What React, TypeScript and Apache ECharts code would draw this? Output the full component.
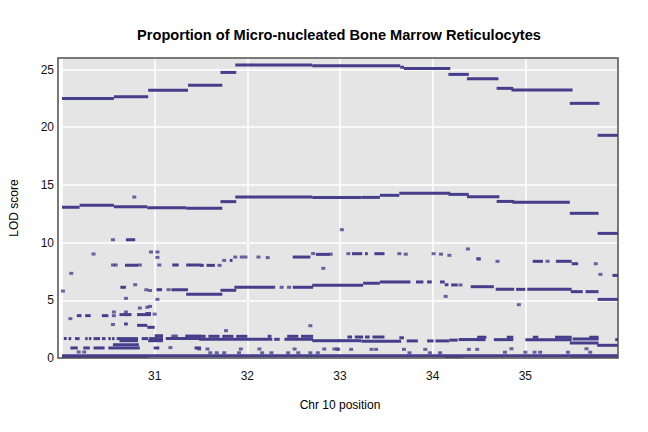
import React, { useEffect, useRef } from "react";
import * as echarts from "echarts";

const title = "Proportion of Micro-nucleated Bone Marrow Reticulocytes";
const xName = "Chr 10 position";
const yName = "LOD score";
const pointColor = "#483D8B";

// [startMb, endMb, LOD]
const topSegments = [
  [30.0, 30.56, 22.5], [30.56, 30.93, 22.65], [30.93, 31.36, 23.2], [31.36, 31.73, 23.63],
  [31.71, 31.88, 24.75], [31.87, 32.7, 25.39], [32.7, 33.65, 25.33], [33.65, 33.69, 25.2],
  [33.69, 34.19, 25.1], [34.17, 34.39, 24.58], [34.37, 34.71, 24.2], [34.69, 34.87, 23.37],
  [34.85, 35.51, 23.22], [35.48, 35.8, 22.07], [35.78, 36.0, 19.3],
];

const secondSegments = [
  [30.0, 30.19, 13.06], [30.19, 30.56, 13.23], [30.56, 30.92, 13.11], [30.92, 31.34, 13.03],
  [31.34, 31.73, 12.97], [31.71, 31.88, 13.55], [31.87, 32.7, 13.95], [32.7, 33.23, 13.9],
  [33.23, 33.43, 13.92], [33.43, 33.64, 14.1], [33.64, 34.19, 14.27], [34.17, 34.39, 14.18],
  [34.37, 34.72, 13.98], [34.69, 34.88, 13.57], [34.86, 35.48, 13.49], [35.48, 35.79, 12.54],
  [35.78, 36.0, 10.8],
];

const thirdSegments = [
  [31.34, 31.73, 5.52], [31.71, 31.88, 5.87], [31.86, 32.3, 6.13], [32.49, 32.71, 6.13],
  [32.7, 33.25, 6.3], [33.25, 33.43, 6.48], [33.43, 33.76, 6.59], [33.82, 33.9, 6.59],
  [33.94, 33.99, 6.59], [34.08, 34.13, 6.59], [34.13, 34.17, 6.35], [34.2, 34.27, 6.33],
  [34.41, 34.66, 6.18], [34.68, 34.88, 5.95], [34.9, 35.0, 5.95], [35.02, 35.5, 5.95],
  [35.49, 35.62, 5.75], [35.65, 35.79, 5.75], [35.78, 36.0, 5.08],
];

const scatterSegments = [
  [30.69, 30.79, 10.25], [30.68, 30.82, 8.03], [31.19, 31.26, 8.06], [31.34, 31.5, 8.06],
  [31.49, 31.53, 8.03], [31.56, 31.65, 8.03], [31.81, 31.84, 8.46], [32.49, 32.68, 8.75],
  [32.74, 32.89, 8.98], [33.13, 33.24, 9.04], [33.27, 33.3, 9.04], [33.37, 33.48, 9.04],
  [35.08, 35.19, 8.38], [35.33, 35.5, 8.38], [35.5, 35.57, 8.17], [35.94, 36.0, 7.16],
  [30.63, 30.69, 6.13], [31.02, 31.08, 5.92], [31.18, 31.36, 5.92],
  [30.62, 30.75, 3.76], [30.81, 30.96, 3.76], [30.9, 30.96, 3.85], [30.16, 30.21, 3.67],
  [30.25, 30.31, 3.67], [30.43, 30.5, 3.67], [30.67, 30.71, 2.95], [30.81, 30.92, 2.83],
  [30.92, 31.0, 2.66],
];

const lowSegments = [
  [30.02, 30.05, 1.68], [30.07, 30.1, 1.68], [30.14, 30.19, 1.68], [30.25, 30.26, 1.68],
  [30.29, 30.31, 1.68], [30.34, 30.41, 1.68], [30.43, 30.47, 1.68], [30.5, 30.51, 1.68],
  [30.54, 30.56, 1.68], [30.59, 30.82, 1.68], [30.86, 30.93, 1.68], [30.94, 31.09, 1.68],
  [31.12, 31.5, 1.68], [30.62, 30.82, 1.5], [30.93, 31.09, 1.5], [31.0, 31.09, 1.93],
  [31.33, 31.5, 1.9],
  [31.48, 32.27, 1.62], [32.29, 32.35, 1.62], [32.4, 32.71, 1.62], [32.7, 33.0, 1.5],
  [31.48, 31.55, 1.88], [31.58, 31.7, 1.88], [31.73, 31.85, 1.88], [31.88, 32.0, 1.88],
  [32.22, 32.26, 1.88], [32.43, 32.55, 1.88], [32.58, 32.71, 1.88],
  [32.98, 33.23, 1.5], [33.23, 33.66, 1.45], [33.72, 33.84, 1.48], [33.94, 34.01, 1.48],
  [34.03, 34.18, 1.48], [34.18, 34.27, 1.55], [34.28, 34.5, 1.6],
  [33.08, 33.13, 1.82], [33.16, 33.25, 1.82], [33.27, 33.32, 1.82], [33.35, 33.48, 1.82],
  [33.64, 33.69, 1.75],
  [34.48, 34.57, 1.59], [34.66, 34.87, 1.59], [35.0, 35.5, 1.59], [35.51, 35.79, 1.65],
  [35.97, 36.0, 1.59], [34.48, 34.58, 1.8], [34.8, 34.87, 1.8], [35.08, 35.14, 1.8],
  [35.32, 35.5, 1.8], [35.69, 35.79, 1.8], [35.48, 35.79, 1.3], [35.775, 36.0, 1.1],
];

const baseSegments = [
  [30.0, 36.0, 0.2], [30.0, 30.93, 0.12], [34.13, 34.33, 0.08], [35.49, 36.0, 0.15],
  [30.09, 30.17, 0.87], [30.23, 30.3, 0.87], [30.34, 30.46, 0.87], [30.5, 30.84, 0.87],
  [30.99, 31.05, 0.87], [31.43, 31.5, 0.87], [30.55, 30.83, 1.15],
];

// isolated markers [Mb, LOD]
const isolatedPoints = [
  [30.01, 5.8], [30.1, 7.34], [30.34, 9.01], [30.96, 9.19], [31.03, 9.19], [31.03, 8.72],
  [30.55, 10.25], [30.55, 8.06], [30.58, 8.06], [30.84, 8.06], [31.05, 8.06], [30.79, 6.35],
  [30.91, 5.91], [30.95, 5.85], [31.15, 5.92], [30.69, 5.17], [31.03, 5.08], [30.84, 4.33],
  [30.92, 4.4], [30.95, 4.47], [30.56, 3.99], [30.69, 3.99], [31.0, 3.8], [30.56, 3.67],
  [30.09, 3.41], [30.55, 2.9], [31.2, 1.9], [31.23, 1.9], [31.17, 0.9], [30.18, 0.52],
  [30.24, 0.52], [30.78, 13.95],
  [31.87, 8.75], [31.94, 8.75], [31.98, 8.75], [32.12, 8.75], [32.22, 8.7], [31.75, 8.46],
  [31.7, 8.03], [32.82, 7.77], [32.71, 9.05], [32.9, 9.0], [32.37, 6.13], [32.45, 6.13],
  [32.68, 2.8], [31.77, 2.37],
  [31.48, 0.78], [31.57, 0.78], [31.93, 0.78], [32.13, 0.78], [32.51, 0.78], [32.83, 0.78],
  [32.94, 0.78], [32.97, 0.78], [31.6, 0.45], [31.67, 0.45], [31.75, 0.45], [31.91, 0.45],
  [32.16, 0.45], [32.26, 0.45], [32.44, 0.45], [32.55, 0.45], [32.68, 0.45], [32.76, 0.45],
  [33.02, 11.12], [33.09, 9.04], [33.64, 9.04], [33.71, 9.0], [34.01, 9.04], [34.09, 9.0],
  [34.18, 8.9], [34.38, 9.45], [34.5, 8.58], [34.3, 6.33], [34.14, 5.34],
  [32.98, 0.75], [33.12, 0.75], [33.34, 0.75], [33.39, 0.75], [33.69, 0.75], [33.92, 0.75],
  [34.39, 0.75], [34.48, 0.75], [33.75, 0.45], [33.97, 0.45], [34.08, 0.45],
  [34.49, 8.6], [34.7, 8.38], [35.24, 8.38], [35.76, 8.17], [35.81, 7.25], [34.93, 4.62],
  [34.85, 0.8], [35.66, 0.8], [34.78, 0.5], [35.0, 0.5], [35.1, 0.5], [35.16, 0.5],
  [35.46, 0.5], [35.7, 0.5],
];

const xTicks = { min: 30, max: 36, interval: 1 };
const yTicks = { min: 0, max: 26, interval: 5 };

export default function App() {
  const ref = useRef<HTMLDivElement>(null);
  useEffect(() => {
    if (!ref.current) return;
    const chart = echarts.init(ref.current, null, { renderer: "svg" });
    const allSegments = [
      ...topSegments,
      ...secondSegments,
      ...thirdSegments,
      ...scatterSegments,
      ...lowSegments,
      ...baseSegments,
    ];
    const font = "'Liberation Sans', Arial, Helvetica, sans-serif";
    const gridBox = { left: 58, top: 58, width: 560, height: 300 };
    chart.setOption({
      animation: false,
      title: {
        text: title,
        left: 334,
        top: 22,
        textAlign: "center",
        textStyle: { fontFamily: font, fontSize: 14.6, fontWeight: "bold", color: "#000" },
      },
      grid: {
        left: gridBox.left,
        top: gridBox.top,
        width: gridBox.width,
        height: gridBox.height,
        show: true,
        backgroundColor: "#E5E5E5",
        borderWidth: 0,
      },
      graphic: [
        {
          type: "rect",
          z: 100,
          silent: true,
          shape: { x: gridBox.left, y: gridBox.top, width: gridBox.width, height: gridBox.height },
          style: { fill: "none", stroke: "#4D4D4D", lineWidth: 1.5 },
        },
      ],
      xAxis: {
        type: "value",
        min: xTicks.min,
        max: xTicks.max,
        interval: xTicks.interval,
        name: xName,
        nameLocation: "middle",
        nameGap: 41,
        nameTextStyle: { fontFamily: font, fontSize: 12, color: "#000" },
        axisLine: { show: false },
        axisTick: { show: false },
        axisLabel: {
          showMinLabel: false,
          showMaxLabel: false,
          margin: 12,
          fontFamily: font,
          fontSize: 12,
          color: "#111",
        },
        splitLine: { show: true, lineStyle: { color: "#FFFFFF", width: 1.5 } },
      },
      yAxis: {
        type: "value",
        min: yTicks.min,
        max: yTicks.max,
        interval: yTicks.interval,
        name: yName,
        nameLocation: "middle",
        nameGap: 42,
        nameTextStyle: { fontFamily: font, fontSize: 12, color: "#000" },
        axisLine: { show: false },
        axisTick: { show: false },
        axisLabel: {
          showMaxLabel: false,
          margin: 8,
          fontFamily: font,
          fontSize: 12,
          color: "#111",
        },
        splitLine: { show: true, lineStyle: { color: "#FFFFFF", width: 1.5 } },
      },
      series: [
        {
          type: "custom",
          encode: { x: [0, 1], y: 2 },
          data: allSegments,
          clip: true,
          renderItem: (params: any, api: any) => {
            const p0 = api.coord([api.value(0), api.value(2)]);
            const p1 = api.coord([api.value(1), api.value(2)]);
            return {
              type: "rect",
              shape: { x: p0[0], y: p0[1] - 1.5, width: Math.max(p1[0] - p0[0], 2.5), height: 3 },
              style: { fill: pointColor },
            };
          },
        },
        {
          type: "scatter",
          data: isolatedPoints,
          symbol: "rect",
          symbolSize: [4, 3],
          itemStyle: { color: pointColor },
        },
      ],
    });
    return () => chart.dispose();
  }, []);
  return (
    <div
      ref={ref}
      style={{ position: "absolute", left: 0, top: 0, width: 648, height: 432 }}
    />
  );
}
